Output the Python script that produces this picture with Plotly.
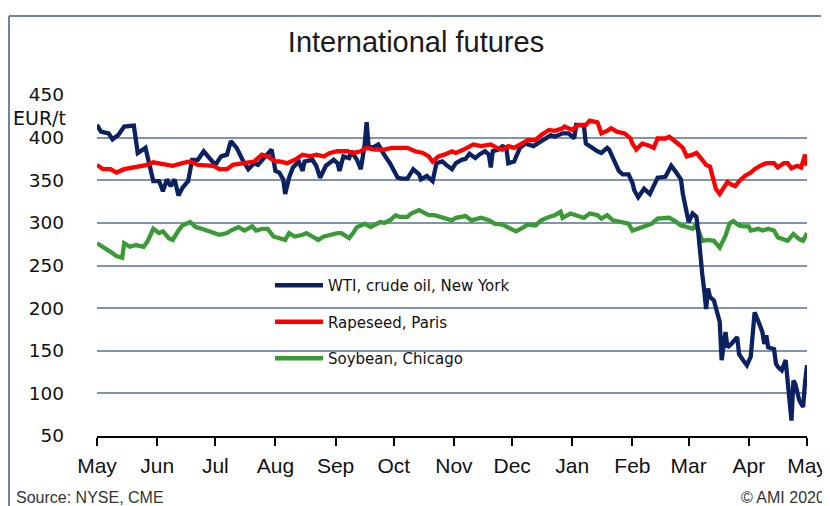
import pandas as pd
import plotly.graph_objects as go

START = pd.Timestamp("2019-05-01")

# ---- data (days since 1 May 2019, EUR/t) ----
wti_days = [0, 2, 6, 8, 11, 14, 19, 21, 25, 29, 32, 34, 36, 38, 40, 42, 44, 47, 49, 52, 55, 57, 61, 64, 67, 69, 72, 75,
            78, 81, 83, 86, 90, 92, 94, 96, 97, 99, 101, 104, 106, 107, 111, 113, 115, 118, 122, 124, 125, 127, 130, 131,
            134, 136, 138, 139, 140, 142, 145, 148, 151, 155, 157, 160, 163, 166, 167, 170, 173, 175, 178, 180, 183, 185,
            188, 190, 192, 195, 197, 200, 202, 203, 204, 207, 209, 211, 212, 215, 218, 221, 225, 227, 231, 234, 236, 240,
            243, 246, 247, 250, 251, 252, 255, 258, 260, 263, 264, 267, 269, 271, 274, 276, 277, 279, 282, 285, 289, 293,
            296, 298, 301, 302, 304, 305, 307, 309, 310, 311, 312, 313, 314, 315, 316, 318, 319, 321, 322, 324, 325, 327,
            330, 331, 333, 335, 337, 339, 341, 343, 344, 345, 346, 349, 350, 351, 353, 355, 356, 358, 359, 360, 362, 364,
            365, 366]
wti_vals = [415, 407, 405, 398, 403, 413, 414, 382, 388, 349, 349, 337, 351, 343, 351, 332, 341, 349, 374, 374, 384, 378,
            368, 378, 380, 396, 388, 374, 363, 370, 368, 376, 386, 361, 359, 351, 334, 353, 365, 372, 361, 372, 374, 367,
            353, 367, 374, 370, 361, 378, 376, 384, 374, 363, 392, 418, 390, 388, 392, 380, 370, 353, 352, 352, 363, 357,
            351, 355, 349, 370, 372, 368, 363, 370, 374, 375, 381, 376, 380, 384, 380, 365, 384, 386, 390, 388, 370, 372,
            388, 393, 390, 393, 399, 403, 401, 405, 405, 399, 415, 415, 414, 393, 388, 384, 382, 388, 386, 372, 361, 357,
            357, 347, 338, 330, 340, 334, 353, 354, 367, 361, 351, 334, 311, 301, 311, 307, 288, 256, 240, 221, 199, 223,
            213, 209, 201, 184, 139, 172, 154, 158, 166, 146, 139, 133, 143, 195, 184, 172, 158, 168, 154, 152, 135, 131,
            127, 139, 115, 68, 115, 111, 92, 84, 113, 133]

rape_days = [0, 3, 7, 10, 14, 18, 22, 26, 29, 32, 36, 39, 44, 48, 52, 57, 60, 63, 67, 70, 75, 78, 81, 85, 88, 92, 94, 98,
             102, 106, 110, 113, 117, 120, 124, 129, 132, 136, 139, 143, 148, 152, 156, 160, 164, 168, 171, 173, 176,
             179, 183, 185, 189, 192, 194, 198, 203, 206, 209, 212, 215, 219, 222, 226, 229, 233, 236, 240, 241, 245,
             248, 252, 254, 258, 260, 263, 265, 268, 272, 275, 276, 278, 281, 284, 287, 289, 293, 295, 297, 300, 302,
             304, 307, 309, 312, 314, 316, 318, 319, 321, 323, 325, 327, 329, 331, 334, 337, 339, 342, 345, 349, 351,
             354, 356, 358, 361, 363, 365, 366]
rape_vals = [368, 363, 363, 359, 363, 365, 367, 368, 371, 370, 368, 367, 370, 372, 368, 367, 367, 363, 363, 368, 370, 372,
             372, 380, 378, 372, 372, 370, 374, 380, 378, 380, 378, 382, 384, 384, 382, 384, 388, 386, 386, 388, 388, 388,
             384, 382, 378, 372, 378, 380, 384, 382, 386, 390, 392, 390, 392, 388, 386, 390, 388, 393, 397, 397, 403, 409,
             408, 411, 413, 409, 415, 415, 420, 418, 405, 408, 411, 407, 405, 399, 393, 386, 393, 391, 388, 399, 399, 401,
             398, 392, 388, 378, 380, 382, 374, 368, 366, 351, 340, 334, 341, 348, 345, 343, 349, 355, 359, 363, 367, 370,
             370, 365, 370, 370, 364, 367, 365, 380, 367]

soy_days = [0, 3, 7, 10, 13, 14, 17, 20, 24, 26, 29, 32, 34, 37, 39, 42, 44, 48, 51, 54, 57, 61, 63, 67, 69, 73, 76, 80,
            82, 85, 88, 91, 94, 97, 99, 102, 106, 108, 111, 114, 117, 120, 124, 126, 130, 132, 134, 136, 138, 141, 143,
            146, 148, 151, 154, 156, 160, 162, 166, 168, 171, 174, 177, 180, 183, 185, 188, 190, 193, 198, 202, 205, 209,
            212, 216, 220, 222, 226, 229, 233, 236, 239, 240, 244, 247, 251, 254, 258, 260, 263, 266, 270, 274, 276, 279,
            283, 286, 289, 293, 295, 298, 301, 303, 307, 308, 310, 312, 315, 318, 321, 324, 326, 328, 331, 333, 336, 337,
            341, 343, 346, 349, 351, 356, 359, 362, 364, 366]
soy_vals = [276, 272, 266, 261, 259, 276, 272, 274, 272, 278, 293, 288, 290, 282, 280, 291, 297, 301, 295, 293, 291, 288,
            286, 288, 291, 295, 291, 296, 291, 293, 293, 284, 282, 280, 288, 284, 286, 288, 284, 280, 284, 286, 288, 288,
            282, 288, 295, 297, 299, 295, 298, 301, 300, 303, 309, 307, 307, 311, 315, 312, 309, 309, 307, 305, 303, 306,
            307, 308, 303, 306, 303, 299, 298, 295, 290, 295, 298, 297, 303, 307, 309, 313, 306, 311, 309, 306, 311, 309,
            305, 309, 303, 301, 299, 291, 293, 296, 299, 305, 305, 306, 302, 297, 296, 293, 296, 292, 279, 280, 279, 271,
            285, 299, 302, 297, 296, 296, 291, 293, 291, 293, 291, 283, 279, 287, 281, 279, 288]

y_ticks = [50, 100, 150, 200, 250, 300, 350, 400, 450]
month_labels = ["May", "Jun", "Jul", "Aug", "Sep", "Oct", "Nov", "Dec", "Jan", "Feb", "Mar", "Apr", "May"]


def to_dates(days):
    return START + pd.to_timedelta(days, unit="D")


month_ticks = pd.date_range("2019-05-01", "2020-05-01", freq="MS")

NAVY = "#0b2161"
RED = "#ff0000"
GREEN = "#3a9a35"
FRAME = "#6f83a0"

fig = go.Figure()
fig.add_trace(go.Scatter(x=to_dates(soy_days), y=soy_vals, mode="lines", name="Soybean, Chicago",
                         line=dict(color=GREEN, width=4.3), legendgroup="c", legendrank=3))
fig.add_trace(go.Scatter(x=to_dates(wti_days), y=wti_vals, mode="lines", name="WTI, crude oil, New York",
                         line=dict(color=NAVY, width=4.3), legendgroup="a", legendrank=1))
fig.add_trace(go.Scatter(x=to_dates(rape_days), y=rape_vals, mode="lines", name="Rapeseed, Paris",
                         line=dict(color=RED, width=4.3), legendgroup="b", legendrank=2))

# page is offset by the browser's 8px body margin
OFF = 8
W, H = 830 - OFF, 506 - OFF
L, T = 97 - OFF, 95 - OFF
R = W - (807 - OFF)
B = H - (436 - OFF)
pw, ph = W - L - R, H - T - B


def px(x_ref):
    return (x_ref - OFF - L) / pw


def py(y_ref):
    return (H - B - (y_ref - OFF)) / ph


TXT = "#111111"
SANS = "Liberation Sans, Arial, sans-serif"

fig.update_layout(
    width=W, height=H,
    margin=dict(l=L, r=R, t=T, b=B, autoexpand=False),
    paper_bgcolor="white", plot_bgcolor="white",
    title=dict(text="International futures", x=(416 - OFF) / W, xanchor="center", y=1 - (42 - OFF) / H,
               yanchor="middle", font=dict(family=SANS, size=29, color="#1a1a1a")),
    showlegend=True,
    legend=dict(x=px(270), xanchor="left", y=py(269), yanchor="top", bgcolor="rgba(0,0,0,0)",
                traceorder="grouped", tracegroupgap=14, itemwidth=48,
                font=dict(family="DejaVu Sans", size=15, color=TXT)),
    xaxis=dict(type="date", range=["2019-05-01", "2020-05-01"], tickvals=month_ticks, ticktext=month_labels,
               ticks="outside", ticklen=8, tickwidth=1.5, tickcolor="black", showline=True, linecolor="black",
               linewidth=2, showgrid=False, zeroline=False, ticklabelstandoff=2,
               tickfont=dict(family=SANS, size=21, color=TXT)),
    yaxis=dict(range=[50, 450], tickvals=y_ticks, showgrid=True, gridcolor="#8094ae", gridwidth=1.8,
               zeroline=False, showline=False, ticks="", ticklabelstandoff=32,
               tickfont=dict(family="DejaVu Sans", size=18.5, color=TXT)),
    annotations=[
        dict(text="EUR/t", xref="paper", yref="paper", x=px(11), y=py(118), xanchor="left", yanchor="middle",
             showarrow=False, font=dict(family="DejaVu Sans", size=19, color=TXT)),
        dict(text="Source: NYSE, CME", xref="paper", yref="paper", x=px(14), y=py(497), xanchor="left",
             yanchor="middle", showarrow=False, font=dict(family=SANS, size=16, color="#333333")),
        dict(text="© AMI 2020", xref="paper", yref="paper", x=px(827), y=py(497), xanchor="right",
             yanchor="middle", showarrow=False, font=dict(family=SANS, size=16, color="#333333")),
    ],
    shapes=[
        dict(type="line", xref="paper", yref="paper", x0=px(OFF + 1), x1=px(OFF + 1), y0=py(16), y1=py(520),
             line=dict(color=FRAME, width=2)),
        dict(type="line", xref="paper", yref="paper", x0=px(OFF + 1), x1=px(821), y0=py(16), y1=py(16),
             line=dict(color=FRAME, width=2)),
    ],
)

fig.write_html("out.html")
